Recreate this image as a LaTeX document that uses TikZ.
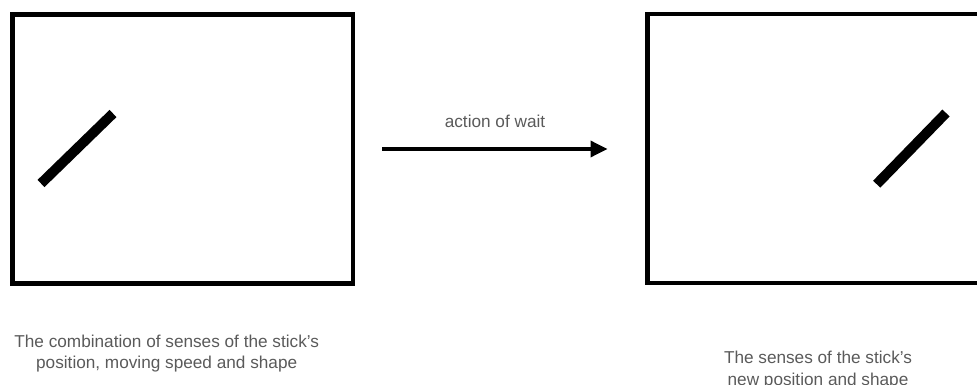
\documentclass[tikz,border=0pt]{standalone}
\usepackage{fontspec}
\setmainfont{Liberation Sans}
\usetikzlibrary{arrows.meta}
\definecolor{txtgray}{HTML}{5A5A5A}
\begin{document}
\begin{tikzpicture}[x=1pt,y=-1pt,
  frame/.style={draw=black,line width=4.5pt,inner sep=0pt,outer sep=0pt,minimum height=269pt,anchor=north west},
  stick/.style={line width=10pt,line cap=butt},
  caption/.style={text=txtgray,font=\fontsize{17.2}{21.5}\selectfont,align=center,inner sep=0pt},
  conn/.style={line width=3.5pt,-{Triangle[length=17pt,width=16pt]}}]
\useasboundingbox (0,0) rectangle (977,385);
\clip (0,0) rectangle (977,385);
\node[frame,minimum width=340.7pt] (lb) at (12.3,14.5) {};
\node[frame,minimum width=360pt] (rb) at (647.5,14) {};
\draw[stick] (41,183.5) -- (113,113.5);
\draw[stick] (876.7,184.2) -- (946,113);
\draw[conn,shorten <=29pt,shorten >=40pt] (lb.east) -- (lb.east -| rb.west);
\node[caption,anchor=base] (lab) at (495,128) {action of wait};
\node[caption,anchor=north] (lc) at (166.7,334.5) {The combination of senses of the stick’s\\position, moving speed and shape};
\node[caption,anchor=north] (rc) at (818,351) {The senses of the stick’s\\new position and shape};
\end{tikzpicture}
\end{document}
